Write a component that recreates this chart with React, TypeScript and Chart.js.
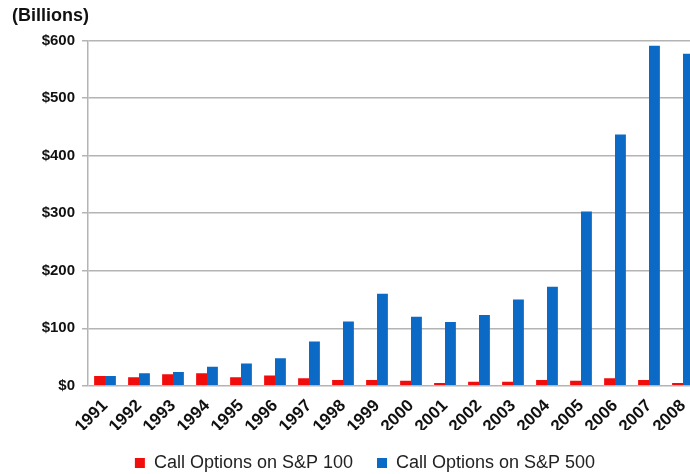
import React, { useEffect, useRef } from "react";
import { Chart, registerables } from "chart.js";

Chart.register(...registerables);

const years = ["1991","1992","1993","1994","1995","1996","1997","1998","1999","2000","2001","2002","2003","2004","2005","2006","2007","2008"];
const sp100 = [17, 15, 20, 22, 15, 18, 13, 10, 10, 9, 5, 7, 7, 10, 9, 13, 10, 5];
const sp500 = [17, 22, 24, 33, 39, 48, 77, 112, 160, 120, 111, 123, 150, 172, 303, 437, 591, 577];
const yTicks = [0, 100, 200, 300, 400, 500, 600];

const FONT = "'Liberation Sans', Arial, Helvetica, sans-serif";

const shiftLegend = {
  id: "shiftLegend",
  afterLayout(chart: any) {
    if (chart.legend) {
      chart.legend.left += 9;
      chart.legend.right += 9;
    }
  },
};

export default function App() {
  const ref = useRef<HTMLCanvasElement>(null);
  useEffect(() => {
    if (!ref.current) return;
    const chart = new Chart(ref.current, {
      type: "bar",
      data: {
        labels: years,
        datasets: [
          { label: "Call Options on S&P 100", data: sp100, backgroundColor: "#f20d0d", categoryPercentage: 0.64, barPercentage: 1 },
          { label: "Call Options on S&P 500", data: sp500, backgroundColor: "#0a6ac6", categoryPercentage: 0.64, barPercentage: 1 },
        ],
      },
      plugins: [shiftLegend],
      options: {
        animation: false,
        responsive: false,
        devicePixelRatio: 1,
        layout: { padding: { left: 12, right: 30, top: 0, bottom: -8 } },
        plugins: {
          tooltip: { enabled: false },
          title: {
            display: true,
            text: "(Billions)",
            align: "start",
            color: "#111",
            font: { family: FONT, size: 18, weight: "bold" },
            padding: { top: 5, bottom: 14 },
          },
          legend: {
            position: "bottom",
            labels: {
              boxWidth: 10,
              boxHeight: 10,
              padding: 24,
              color: "#222",
              font: { family: FONT, size: 18 },
            },
          },
        },
        scales: {
          x: {
            grid: { display: false },
            border: { display: false },
            afterFit: (s: any) => { s.height -= 9; },
            ticks: {
              maxRotation: 45,
              minRotation: 45,
              autoSkip: false,
              color: "#111",
              padding: 2,
              font: { family: FONT, size: 17, weight: "bold" },
            },
          },
          y: {
            min: 0,
            max: 600,
            afterFit: (s: any) => { s.width = 76; },
            afterBuildTicks: (s: any) => { s.ticks = yTicks.map((v) => ({ value: v })); },
            grid: { color: "#b4b4b4", lineWidth: 1.5, tickLength: 6, drawTicks: true },
            border: { display: true, color: "#b4b4b4", width: 1.5 },
            ticks: {
              color: "#111",
              padding: 7,
              font: { family: FONT, size: 15, weight: "bold" },
              callback: (v: any) => "$" + v,
            },
          },
        },
      },
    });
    return () => chart.destroy();
  }, []);
  return (
    <div style={{ position: "fixed", left: 0, top: 0, width: 690, height: 474, overflow: "hidden", background: "#fff" }}>
      <canvas ref={ref} width={730} height={474} style={{ width: 730, height: 474, display: "block" }} />
    </div>
  );
}
